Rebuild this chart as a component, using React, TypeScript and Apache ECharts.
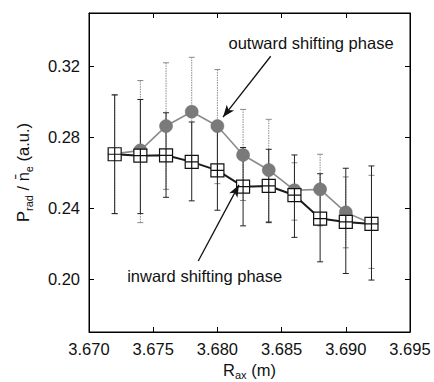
import React, { useEffect, useRef } from "react";
import * as echarts from "echarts";

const rax = [3.672, 3.674, 3.676, 3.678, 3.68, 3.682, 3.684, 3.686, 3.688, 3.69, 3.692];
const inward = [0.2703, 0.2695, 0.2697, 0.266, 0.2612, 0.252, 0.2524, 0.2472, 0.234, 0.2321, 0.231];
const inwardLow = [0.2368, 0.2368, 0.246, 0.244, 0.2387, 0.2299, 0.2317, 0.2234, 0.2096, 0.203, 0.1993];
const inwardHigh = [0.3038, 0.3012, 0.2937, 0.2885, 0.2837, 0.2741, 0.2731, 0.2699, 0.2593, 0.2624, 0.2637];
const outward = [0.2705, 0.2725, 0.2862, 0.2943, 0.2862, 0.2699, 0.2614, 0.25, 0.2505, 0.2375, 0.2312];
const outwardLow = [0.2368, 0.2317, 0.2505, 0.2636, 0.2537, 0.2442, 0.2323, 0.2331, 0.2299, 0.2175, 0.2059];
const outwardHigh = [0.3038, 0.3119, 0.3219, 0.325, 0.3181, 0.2956, 0.29, 0.2655, 0.2703, 0.2575, 0.2584];

const xTicks = [3.67, 3.675, 3.68, 3.685, 3.69, 3.695];
const yTicks = [0.2, 0.24, 0.28, 0.32];

const labelOutward = "outward shifting phase";
const labelInward = "inward shifting phase";

const FONT = "Liberation Sans, Arial, sans-serif";

function errorBarSeries(lo: number[], hi: number[], color: string, dashed: boolean) {
  const data = rax.map((x, i) => [x, lo[i], hi[i]]);
  return {
    type: "custom",
    xAxisIndex: 0,
    yAxisIndex: 0,
    silent: true,
    z: dashed ? 1 : 2,
    encode: { x: 0, y: [1, 2] },
    data,
    renderItem: (params: any, api: any) => {
      const x = api.value(0);
      const pLo = api.coord([x, api.value(1)]);
      const pHi = api.coord([x, api.value(2)]);
      const w = 3;
      const st = { stroke: color, lineWidth: 1, lineDash: dashed ? [1.5, 1] : null };
      const cap = { stroke: color, lineWidth: 1 };
      return {
        type: "group",
        children: [
          { type: "line", shape: { x1: pLo[0], y1: pLo[1], x2: pHi[0], y2: pHi[1] }, style: st },
          { type: "line", shape: { x1: pLo[0] - w, y1: pLo[1], x2: pLo[0] + w, y2: pLo[1] }, style: cap },
          { type: "line", shape: { x1: pHi[0] - w, y1: pHi[1], x2: pHi[0] + w, y2: pHi[1] }, style: cap },
        ],
      };
    },
  };
}

const squareCross = "path://M0,0H10V10H0Z M5,0V10 M0,5H10";

export default function App() {
  const ref = useRef<HTMLDivElement>(null);
  useEffect(() => {
    if (!ref.current) return;
    const chart = echarts.init(ref.current, null, { renderer: "svg" });
    const axisCommon = {
      type: "value",
      axisLine: { show: true, onZero: false, lineStyle: { color: "#000", width: 1 } },
      splitLine: { show: false },
    };
    chart.setOption({
      animation: false,
      backgroundColor: "#fff",
      textStyle: { fontFamily: FONT },
      grid: {
        left: 89,
        right: 24,
        top: 13,
        bottom: 50,
        show: true,
        borderColor: "#000",
        borderWidth: 1,
        containLabel: false,
        outerBoundsMode: "none",
      },
      xAxis: [
        {
          ...axisCommon,
          position: "bottom",
          min: 3.67,
          max: 3.695,
          interval: 0.005,
          axisTick: { show: true, inside: true, length: 5, lineStyle: { color: "#000" }, customValues: xTicks },
          axisLabel: {
            customValues: xTicks,
            formatter: (v: number) => v.toFixed(3),
            fontSize: 16.5,
            color: "#111",
            fontFamily: FONT,
            margin: 8,
          },
          name: "R{sub|ax} (m)",
          nameLocation: "middle",
          nameGap: 26,
          nameTextStyle: {
            fontSize: 16.5,
            color: "#111",
            fontFamily: FONT,
            rich: { sub: { fontSize: 11, color: "#111", fontFamily: FONT, padding: [9, 0, 0, 0] } },
          },
        },
        {
          ...axisCommon,
          position: "top",
          min: 3.67,
          max: 3.695,
          interval: 0.005,
          axisTick: { show: true, inside: true, length: 5, lineStyle: { color: "#000" }, customValues: xTicks },
          axisLabel: { show: false },
        },
      ],
      yAxis: [
        {
          ...axisCommon,
          position: "left",
          min: 0.17,
          max: 0.35,
          axisTick: { show: true, inside: true, length: 5, lineStyle: { color: "#000" }, customValues: yTicks },
          axisLabel: {
            customValues: yTicks,
            formatter: (v: number) => v.toFixed(2),
            fontSize: 16.5,
            color: "#111",
            fontFamily: FONT,
            margin: 9,
          },
          name: "P{sub|rad} / n\u0304{sub|e} (a.u.)",
          nameLocation: "middle",
          nameRotate: 90,
          nameGap: 55,
          nameTextStyle: {
            fontSize: 16.5,
            color: "#111",
            fontFamily: FONT,
            rich: { sub: { fontSize: 11, color: "#111", fontFamily: FONT, padding: [12, 0, 0, 0] } },
          },
        },
        {
          ...axisCommon,
          position: "right",
          min: 0.17,
          max: 0.35,
          axisTick: { show: true, inside: true, length: 5, lineStyle: { color: "#000" }, customValues: yTicks },
          axisLabel: { show: false },
        },
      ],
      series: [
        errorBarSeries(outwardLow, outwardHigh, "#8a8a8a", true),
        errorBarSeries(inwardLow, inwardHigh, "#222", false),
        {
          type: "line",
          z: 3,
          data: rax.map((x, i) => [x, outward[i]]),
          symbol: "circle",
          symbolSize: 13,
          lineStyle: { color: "#8c8c8c", width: 1.6 },
          itemStyle: { color: "#7a7a7a", borderColor: "#6e6e6e", borderWidth: 0.5 },
          markPoint: {
            silent: true,
            symbol: "rect",
            symbolSize: 0,
            itemStyle: { color: "transparent" },
            data: [
              {
                coord: [3.68729, 0.3328],
                label: { show: true, position: "inside", formatter: labelOutward, fontSize: 16.5, color: "#111", fontFamily: FONT },
              },
              {
                coord: [3.67901, 0.2017],
                label: { show: true, position: "inside", formatter: labelInward, fontSize: 16.5, color: "#111", fontFamily: FONT },
              },
            ],
          },
        },
        {
          type: "line",
          z: 4,
          data: rax.map((x, i) => [x, inward[i]]),
          symbol: squareCross,
          symbolSize: 13,
          lineStyle: { color: "#1a1a1a", width: 2 },
          itemStyle: { color: "#fff", borderColor: "#111", borderWidth: 1.2 },
          markLine: {
            silent: true,
            symbol: ["none", "arrow"],
            symbolSize: [7, 12],
            label: { show: false },
            lineStyle: { color: "#111", width: 1.3, type: "solid" },
            data: [
              [{ coord: [3.68415, 0.3256] }, { coord: [3.68044, 0.2913] }],
              [{ coord: [3.67851, 0.2101] }, { coord: [3.68168, 0.253] }],
            ],
          },
        },
      ],
    });
    return () => chart.dispose();
  }, []);
  return <div ref={ref} style={{ position: "absolute", left: 0, top: 0, width: 434, height: 382 }} />;
}
